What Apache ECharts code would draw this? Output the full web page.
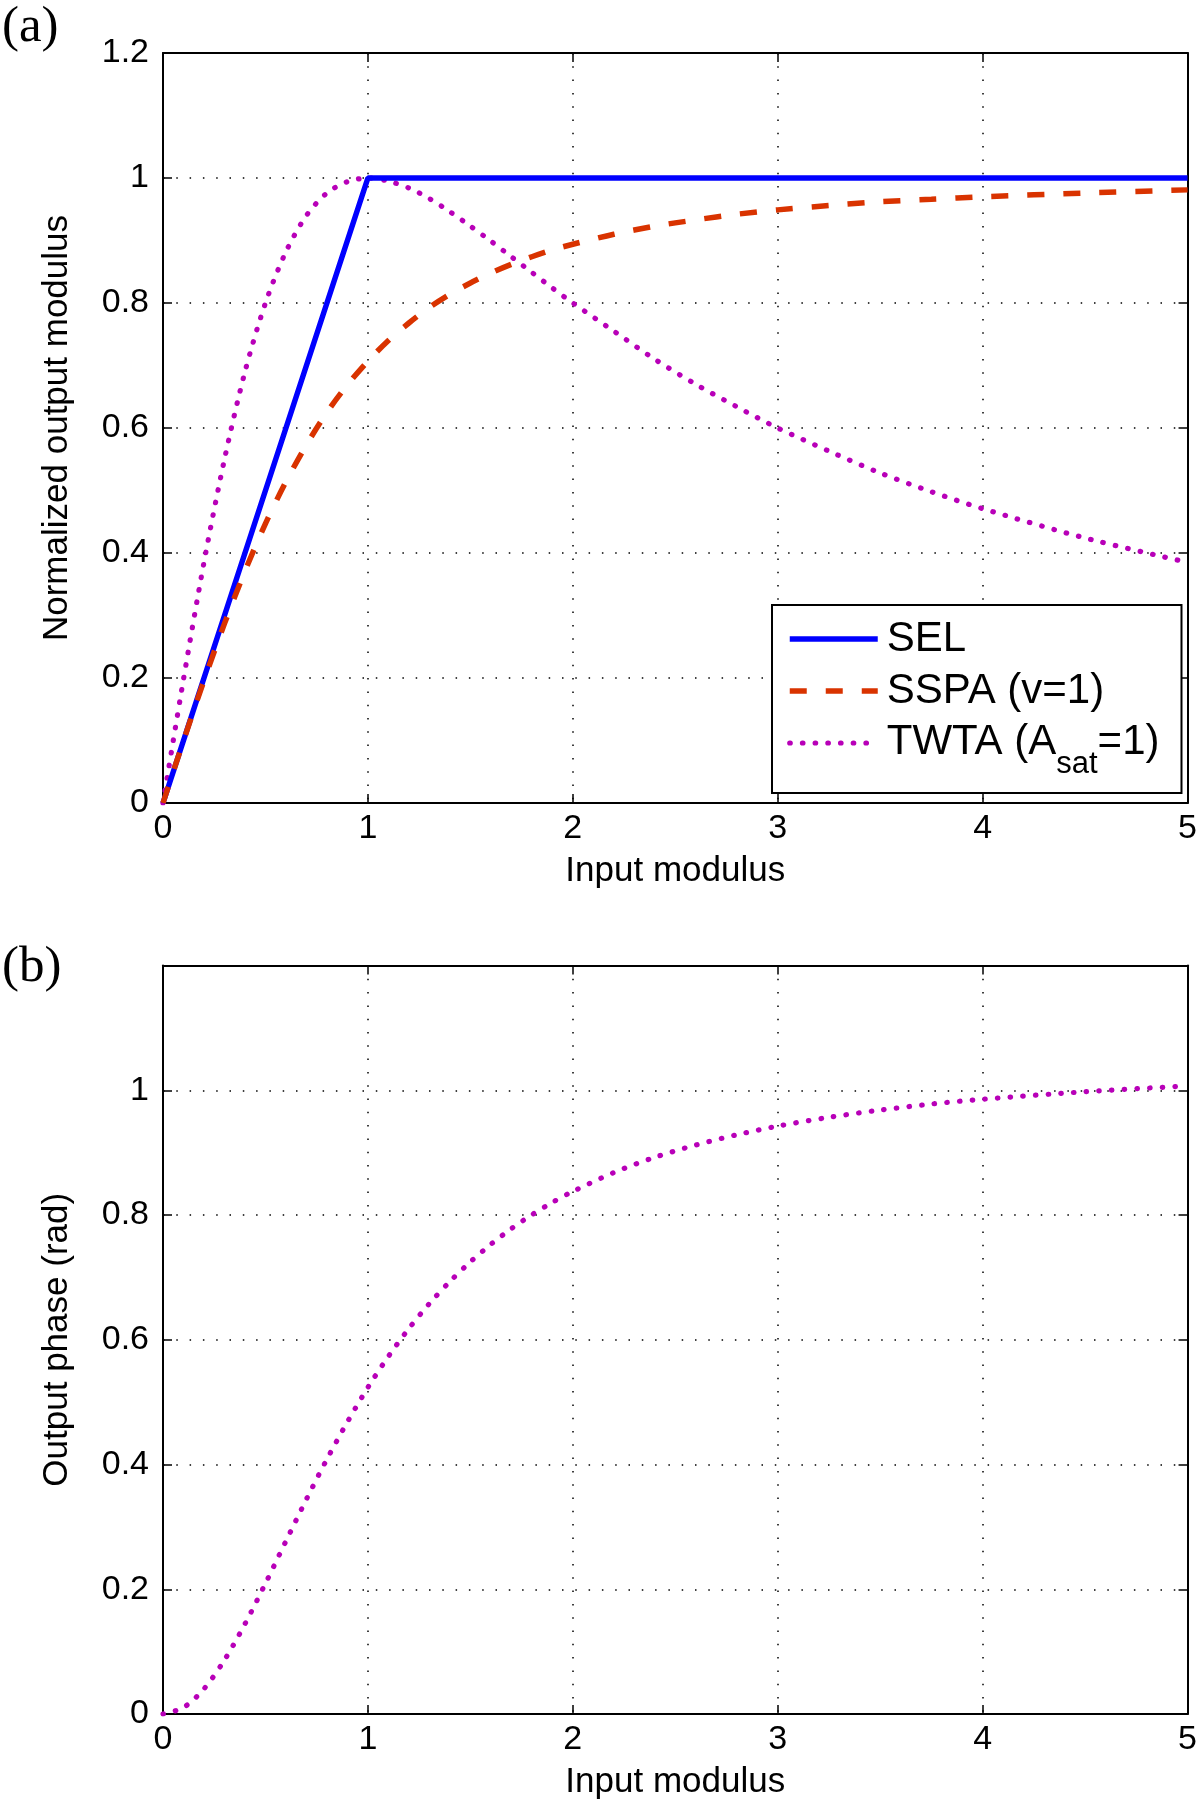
<!DOCTYPE html>
<html>
<head>
<meta charset="utf-8">
<script src="https://cdn.jsdelivr.net/npm/echarts@6/dist/echarts.min.js"></script>
<style>
html,body{margin:0;padding:0;background:#fff;}
#chart{width:1200px;height:1802px;}
</style>
</head>
<body>
<div id="chart"></div>
<script>
// ---- data ----
var xTicks = [0, 1, 2, 3, 4, 5];
var yTicks = [0, 0.2, 0.4, 0.6, 0.8, 1, 1.2];

var selX = [0, 1, 5];
var selY = [0, 1, 1];

var curveX = [0, 0.1, 0.2, 0.3, 0.4, 0.5, 0.6, 0.7, 0.8, 0.9, 1.0, 1.1, 1.2, 1.3, 1.4, 1.5, 1.6, 1.7, 1.8, 1.9, 2.0, 2.2, 2.4, 2.6, 2.8, 3.0, 3.25, 3.5, 3.75, 4.0, 4.5, 5.0];
var sspaY  = [0, 0.0995, 0.196, 0.287, 0.371, 0.447, 0.514, 0.573, 0.625, 0.669, 0.707, 0.740, 0.768, 0.793, 0.814, 0.832, 0.848, 0.862, 0.874, 0.885, 0.894, 0.910, 0.923, 0.933, 0.942, 0.949, 0.956, 0.962, 0.966, 0.970, 0.976, 0.981];
var twtaY  = [0, 0.198, 0.385, 0.550, 0.690, 0.800, 0.882, 0.940, 0.976, 0.994, 1.000, 0.995, 0.984, 0.967, 0.946, 0.923, 0.899, 0.874, 0.849, 0.824, 0.800, 0.755, 0.710, 0.670, 0.634, 0.600, 0.563, 0.528, 0.498, 0.471, 0.424, 0.385];
var phaseY = [0, 0.0104, 0.0403, 0.0865, 0.1444, 0.2094, 0.2772, 0.3444, 0.4086, 0.4682, 0.5236, 0.5733, 0.6181, 0.6580, 0.6934, 0.7249, 0.7530, 0.7781, 0.8003, 0.8201, 0.8378, 0.8680, 0.8925, 0.9122, 0.9286, 0.9425, 0.9566, 0.9682, 0.9779, 0.9856, 0.9976, 1.0069];

var seriesNames = ['SEL', 'SSPA (v=1)', 'TWTA (A_sat=1)'];
var xName = 'Input modulus';
var yNameA = 'Normalized output modulus';
var yNameB = 'Output phase (rad)';

// ---- build ----
function pairs(xs, ys) { return xs.map(function (x, i) { return [x, ys[i]]; }); }

var FONT = '"Liberation Sans", Arial, Helvetica, sans-serif';
var SERIF = '"Liberation Serif", "Times New Roman", serif';
var BLUE = '#0000ff', RED = '#d93300', MAG = '#b800b8';

var gridLine = { show: true, lineStyle: { color: '#000', width: 1.5, type: [1.5, 11.8] } };
var axisLine = { show: true, onZero: false, lineStyle: { color: '#000', width: 2 } };
var tick = { show: true, inside: true, length: 9, lineStyle: { color: '#000', width: 1.5 } };
var lbl = { fontSize: 34, color: '#000', fontFamily: FONT };
var nameStyle = { fontSize: 35, color: '#000', fontFamily: FONT };

var dotStyle = { color: MAG, width: 5.2, type: [0.5, 12.2], cap: 'round' };
var dashStyle = { color: RED, width: 5.5, type: [17, 19], cap: 'butt' };
var solidStyle = { color: BLUE, width: 5.5, type: 'solid' };

function mainX(gi) {
  return {
    type: 'value', gridIndex: gi, min: 0, max: 5, interval: 1, position: 'bottom',
    axisLine: axisLine, axisTick: tick, splitLine: gridLine,
    axisLabel: Object.assign({ margin: 9 }, lbl),
    name: xName, nameLocation: 'middle', nameGap: 51,
    nameTextStyle: nameStyle
  };
}
function topX(gi) {
  return {
    type: 'value', gridIndex: gi, min: 0, max: 5, interval: 1, position: 'top',
    axisLine: axisLine, axisTick: tick, splitLine: { show: false }, axisLabel: { show: false }
  };
}
function mainY(gi, name, hideTop) {
  return {
    type: 'value', gridIndex: gi, min: 0, max: 1.2, interval: 0.2, position: 'left',
    axisLine: axisLine, axisTick: tick, splitLine: gridLine,
    axisLabel: Object.assign({
      margin: 14,
      formatter: function (v) {
        var r = Math.round(v * 10) / 10;
        if (hideTop && r > 1.1) return '';
        return String(r);
      }
    }, lbl),
    name: name, nameLocation: 'middle', nameGap: 88,
    nameTextStyle: nameStyle
  };
}
function rightY(gi) {
  return {
    type: 'value', gridIndex: gi, min: 0, max: 1.2, interval: 0.2, position: 'right',
    axisLine: axisLine, axisTick: tick, splitLine: { show: false }, axisLabel: { show: false }
  };
}

var option = {
  animation: false,
  backgroundColor: '#fff',
  grid: [
    { left: 163, top: 53, width: 1029, height: 750 },
    { left: 163, top: 965.5, width: 1029, height: 748.5 }
  ],
  xAxis: [mainX(0), topX(0), mainX(1), topX(1)],
  yAxis: [mainY(0, yNameA, false), rightY(0), mainY(1, yNameB, true), rightY(1)],
  legend: {
    left: 772, top: 605,
    orient: 'vertical',
    backgroundColor: '#fff', borderColor: '#000', borderWidth: 2,
    padding: [12, 22, 7, 15],
    itemGap: 8, itemWidth: 88, itemHeight: 20,
    itemStyle: { opacity: 0 },
    textStyle: {
      fontSize: 42, color: '#000', fontFamily: FONT, padding: [0, 0, 0, 4], lineHeight: 44,
      rich: {
        n: { fontSize: 42, fontFamily: FONT, color: '#000', lineHeight: 44, verticalAlign: 'top' },
        s: { fontSize: 31, fontFamily: FONT, color: '#000', lineHeight: 30, padding: [28, 0, 6, 0], verticalAlign: 'top' }
      }
    },
    formatter: function (name) {
      if (name === seriesNames[2]) return '{n|TWTA (A}{s|sat}{n|=1)}';
      return name;
    },
    data: [
      { name: seriesNames[0], itemStyle: { opacity: 0 }, lineStyle: solidStyle },
      { name: seriesNames[1], itemStyle: { opacity: 0 }, lineStyle: dashStyle },
      { name: seriesNames[2], itemStyle: { opacity: 0 }, lineStyle: dotStyle }
    ]
  },
  graphic: [
    { type: 'text', left: 2, top: 2, style: { text: '(a)', fontSize: 51, fontFamily: SERIF, fill: '#000' } },
    { type: 'text', left: 2, top: 942, style: { text: '(b)', fontSize: 51, fontFamily: SERIF, fill: '#000' } }
  ],
  series: [
    {
      name: seriesNames[0], type: 'line', xAxisIndex: 0, yAxisIndex: 0, symbol: 'none',
      data: pairs(selX, selY), z: 3,
      lineStyle: solidStyle, itemStyle: { color: BLUE }
    },
    {
      name: seriesNames[1], type: 'line', xAxisIndex: 0, yAxisIndex: 0, symbol: 'none',
      data: pairs(curveX, sspaY), smooth: 0.3, z: 4,
      lineStyle: dashStyle, itemStyle: { color: RED }
    },
    {
      name: seriesNames[2], type: 'line', xAxisIndex: 0, yAxisIndex: 0, symbol: 'none',
      data: pairs(curveX, twtaY), smooth: 0.3, z: 2,
      lineStyle: dotStyle, itemStyle: { color: MAG }
    },
    {
      name: 'phase', type: 'line', xAxisIndex: 2, yAxisIndex: 2, symbol: 'none',
      data: pairs(curveX, phaseY), smooth: 0.3,
      lineStyle: dotStyle, itemStyle: { color: MAG }
    }
  ]
};

var chart = echarts.init(document.getElementById('chart'), null, { renderer: 'canvas' });
chart.setOption(option);
</script>
</body>
</html>
